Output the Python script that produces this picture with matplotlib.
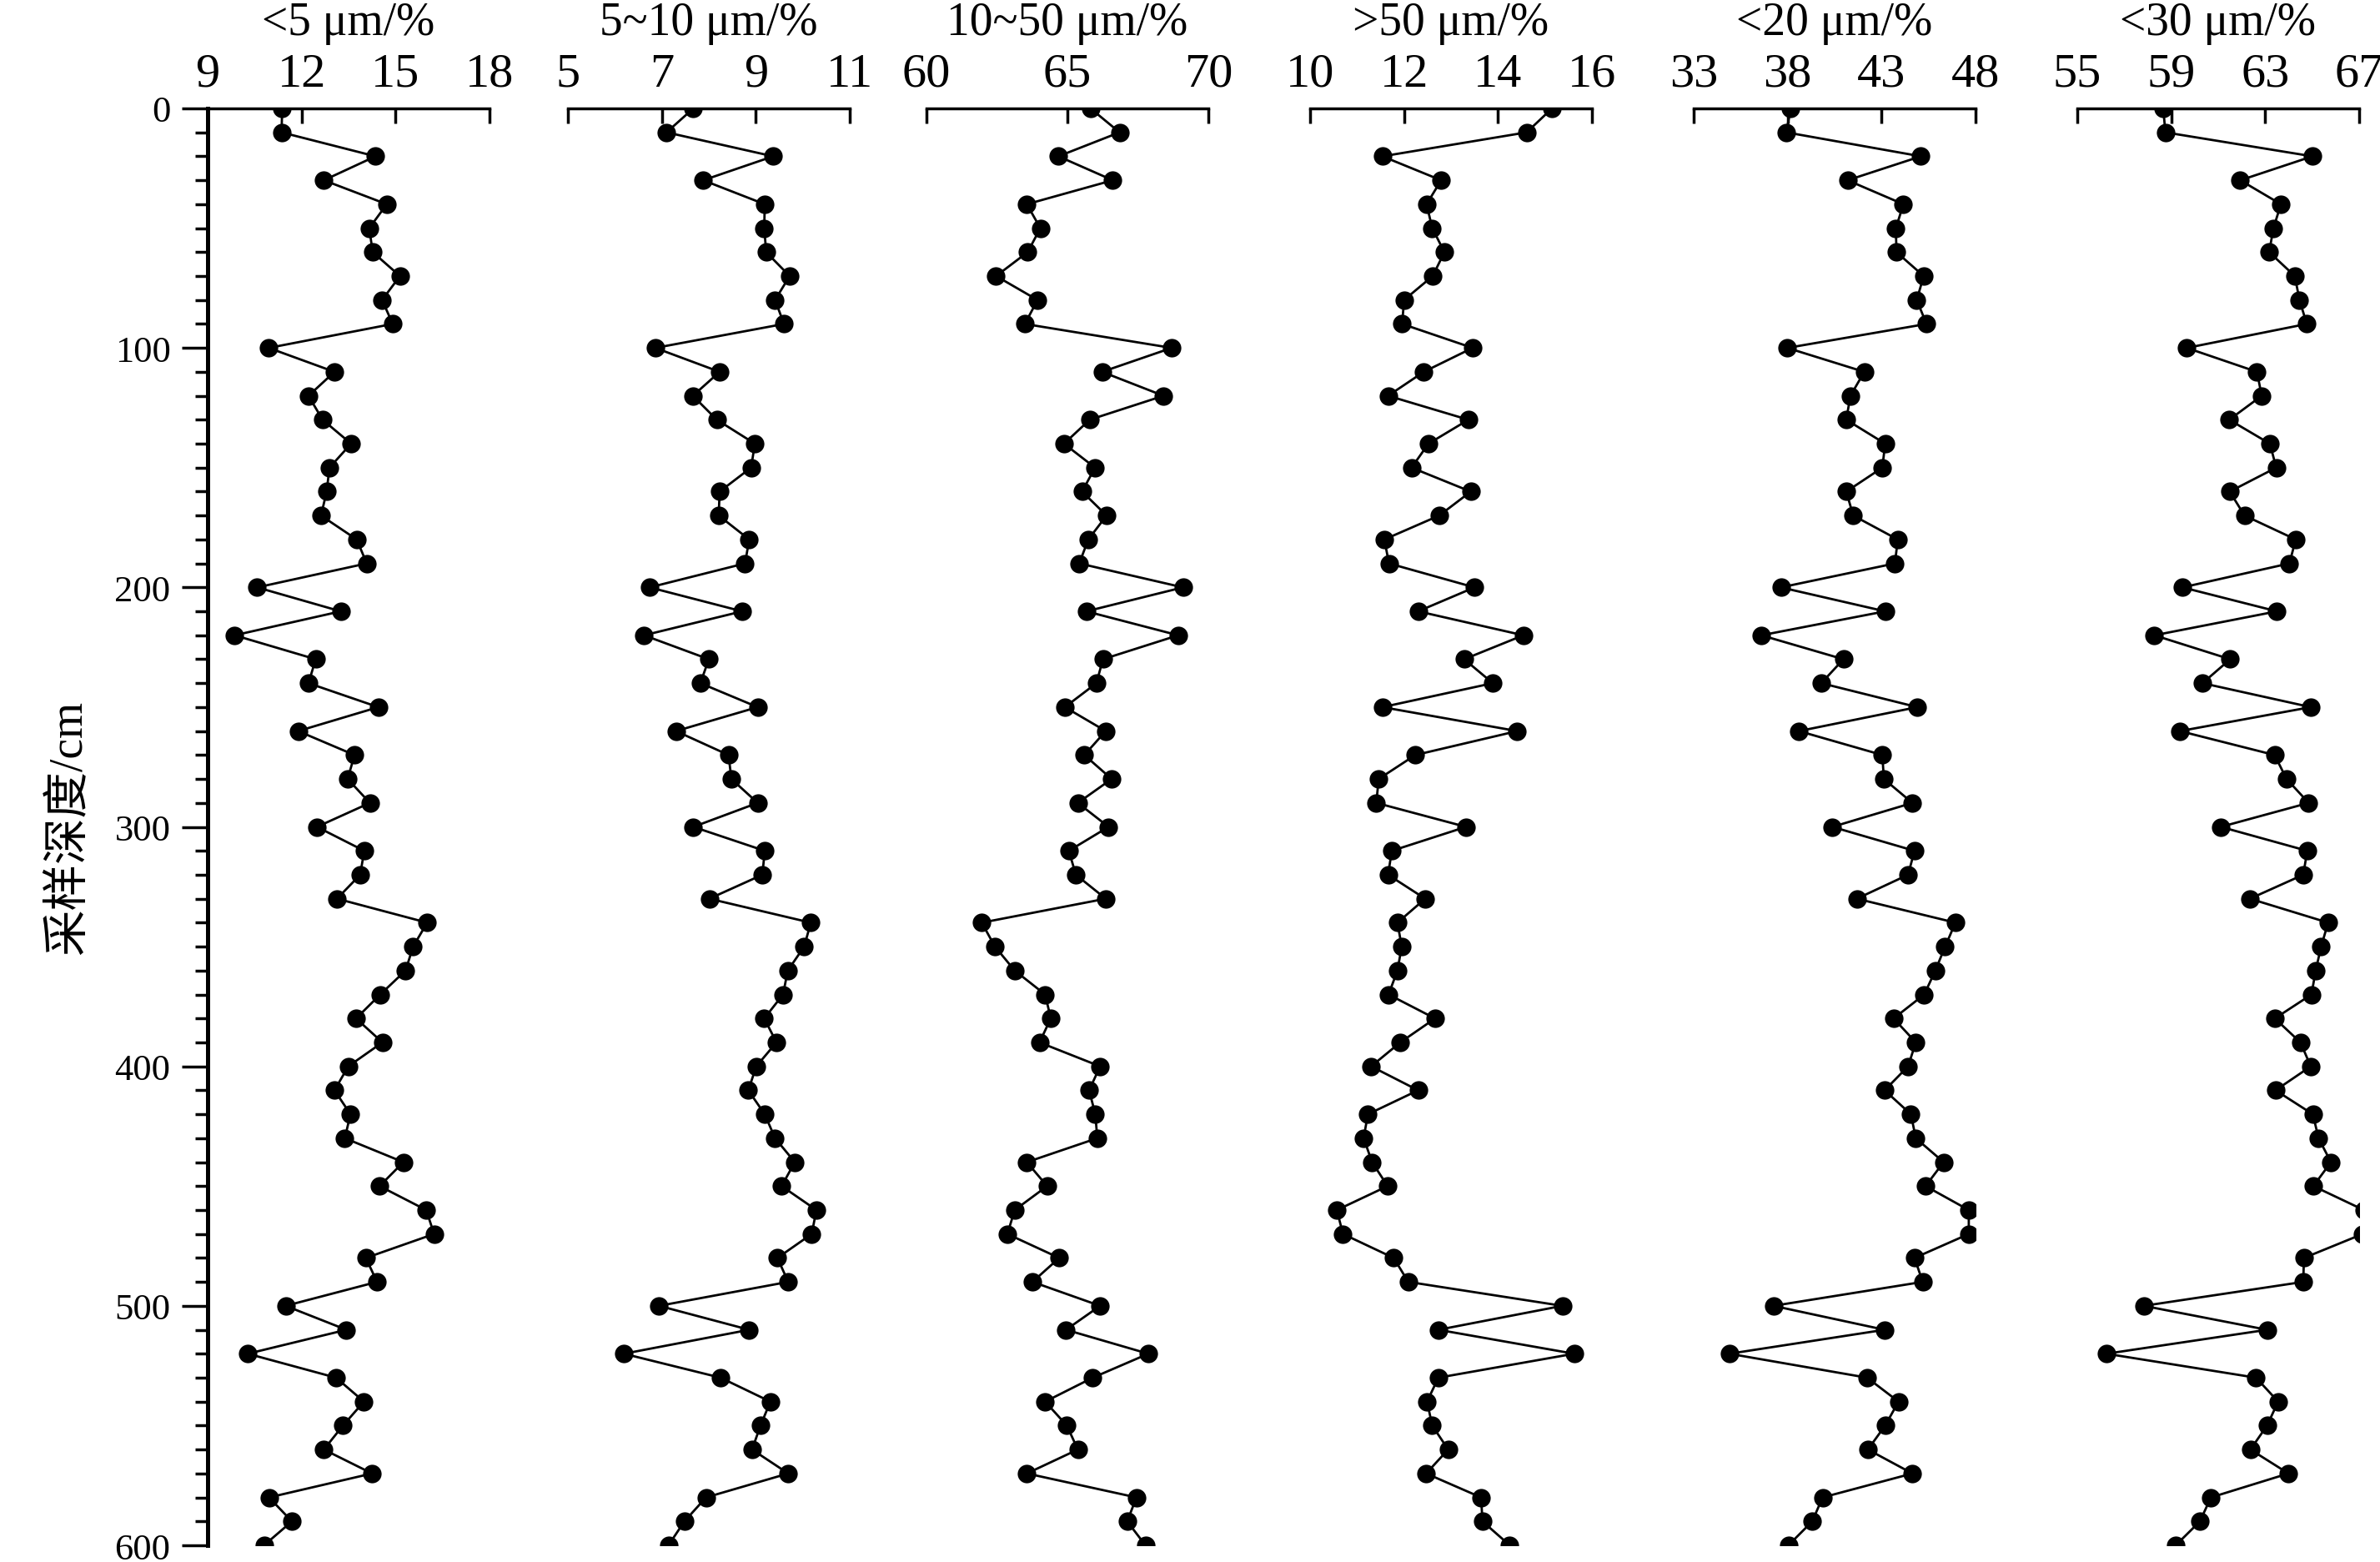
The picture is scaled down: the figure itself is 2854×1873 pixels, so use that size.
import matplotlib
matplotlib.use('Agg')
import matplotlib.pyplot as plt
from matplotlib.ticker import MultipleLocator

# шрифт: Times-подібний для цифр, CJK для підпису осі
plt.rcParams['font.family'] = ['Liberation Serif', 'Noto Sans CJK SC']

# глибина відбору зразків, см
depth = [0, 10, 20, 30, 40, 50, 60, 70, 80, 90,
         100, 110, 120, 130, 140, 150, 160, 170, 180, 190,
         200, 210, 220, 230, 240, 250, 260, 270, 280, 290,
         300, 310, 320, 330, 340, 350, 360, 370, 380, 390,
         400, 410, 420, 430, 440, 450, 460, 470, 480, 490,
         500, 510, 520, 530, 540, 550, 560, 570, 580, 590, 600]

lt5 = [11.38, 11.36, 14.36, 12.71, 14.72, 14.16, 14.27, 15.14, 14.57, 14.91,
       10.95, 13.05, 12.22, 12.67, 13.58, 12.89, 12.80, 12.62, 13.76, 14.08,
       10.58, 13.25, 9.86, 12.45, 12.22, 14.45, 11.89, 13.69, 13.47, 14.18,
       12.49, 14.00, 13.87, 13.13, 16.01, 15.56, 15.32, 14.51, 13.74, 14.58,
       13.49, 13.05, 13.56, 13.38, 15.25, 14.49, 15.98, 16.23, 14.05, 14.41,
       11.49, 13.43, 10.28, 13.10, 13.99, 13.32, 12.71, 14.25, 10.96, 11.69, 10.80]

r5_10 = [7.67, 7.10, 9.37, 7.88, 9.19, 9.18, 9.22, 9.72, 9.41, 9.60,
         6.86, 8.23, 7.66, 8.17, 8.98, 8.90, 8.23, 8.21, 8.86, 8.77,
         6.74, 8.71, 6.62, 8.00, 7.82, 9.04, 7.30, 8.42, 8.48, 9.04,
         7.67, 9.19, 9.14, 8.01, 10.17, 10.03, 9.68, 9.58, 9.18, 9.44,
         9.01, 8.84, 9.19, 9.41, 9.83, 9.55, 10.29, 10.19, 9.46, 9.69,
         6.94, 8.86, 6.19, 8.25, 9.31, 9.10, 8.92, 9.69, 7.94, 7.48, 7.14]

r10_50 = [65.82, 66.85, 64.68, 66.61, 63.56, 64.04, 63.59, 62.47, 63.94, 63.49,
          68.70, 66.23, 68.41, 65.79, 64.88, 65.98, 65.52, 66.39, 65.74, 65.42,
          69.10, 65.67, 68.93, 66.26, 66.03, 64.91, 66.36, 65.60, 66.57, 65.37,
          66.46, 65.05, 65.30, 66.36, 61.96, 62.43, 63.13, 64.21, 64.41, 64.01,
          66.16, 65.77, 65.99, 66.06, 63.56, 64.28, 63.13, 62.87, 64.71, 63.76,
          66.16, 64.95, 67.87, 65.90, 64.21, 64.98, 65.37, 63.56, 67.45, 67.12, 67.77]

gt50 = [15.15, 14.61, 11.54, 12.79, 12.48, 12.60, 12.86, 12.61, 12.00, 11.96,
        13.46, 12.42, 11.66, 13.37, 12.52, 12.16, 13.42, 12.75, 11.58, 11.68,
        13.50, 12.30, 14.54, 13.28, 13.89, 11.54, 14.41, 12.24, 11.46, 11.41,
        13.32, 11.74, 11.66, 12.45, 11.86, 11.95, 11.86, 11.67, 12.66, 11.92,
        11.30, 12.30, 11.23, 11.14, 11.32, 11.65, 10.57, 10.70, 11.78, 12.09,
        15.37, 12.73, 15.62, 12.73, 12.49, 12.60, 12.94, 12.47, 13.64, 13.67, 14.25]

lt20 = [38.16, 37.93, 45.09, 41.19, 44.16, 43.76, 43.79, 45.24, 44.87, 45.39,
        37.98, 42.08, 41.34, 41.12, 43.19, 43.04, 41.12, 41.49, 43.86, 43.71,
        37.64, 43.19, 36.60, 40.97, 39.79, 44.90, 38.60, 43.04, 43.12, 44.64,
        40.38, 44.75, 44.41, 41.68, 46.93, 46.38, 45.86, 45.27, 43.64, 44.82,
        44.41, 43.16, 44.56, 44.82, 46.30, 45.34, 47.64, 47.64, 44.75, 45.19,
        37.24, 43.16, 34.90, 42.23, 43.90, 43.19, 42.27, 44.64, 39.86, 39.31, 38.04]

lt30 = [58.66, 58.75, 65.01, 61.94, 63.67, 63.35, 63.17, 64.26, 64.46, 64.77,
        59.66, 62.65, 62.85, 61.47, 63.20, 63.47, 61.49, 62.12, 64.30, 64.03,
        59.48, 63.50, 58.28, 61.51, 60.33, 64.94, 59.37, 63.40, 63.91, 64.85,
        61.11, 64.79, 64.62, 62.35, 65.68, 65.38, 65.15, 64.97, 63.41, 64.50,
        64.94, 63.44, 65.03, 65.27, 65.80, 65.05, 67.20, 67.15, 64.65, 64.62,
        57.83, 63.08, 56.24, 62.61, 63.55, 63.08, 62.37, 63.99, 60.69, 60.22, 59.19]

series = [lt5, r5_10, r10_50, gt50, lt20, lt30]
titles = ['<5 μm/%', '5~10 μm/%', '10~50 μm/%', '>50 μm/%', '<20 μm/%', '<30 μm/%']
xlims = [(9, 18), (5, 11), (60, 70), (10, 16), (33, 48), (55, 67)]
xticks = [[9, 12, 15, 18], [5, 7, 9, 11], [60, 65, 70],
          [10, 12, 14, 16], [33, 38, 43, 48], [55, 59, 63, 67]]

# розміщення панелей у пікселях вихідного зображення
W, H = 2854, 1874
lefts = [249, 681, 1111, 1571, 2031, 2491]
panel_w = 338
top_px, bottom_px = 131, 1854

fig = plt.figure(figsize=(W / 100, H / 100), dpi=100)

for i, vals in enumerate(series):
    ax = fig.add_axes([lefts[i] / W, 1 - bottom_px / H, panel_w / W, (bottom_px - top_px) / H])
    ax.plot(vals, depth, '-o', color='black', lw=2, ms=16, mew=0)
    ax.set_xlim(*xlims[i])
    ax.set_ylim(600, 0)

    # вісь x зверху, риски всередину
    ax.xaxis.tick_top()
    ax.set_xticks(xticks[i])
    ax.tick_params(axis='x', which='both', direction='in', length=13, width=2.5,
                   pad=11, labelsize=42)
    for s in ['bottom', 'right', 'left']:
        ax.spines[s].set_visible(False)
    ax.spines['top'].set_linewidth(2.5)

    if i == 0:
        ax.spines['left'].set_visible(True)
        ax.spines['left'].set_linewidth(3.6)
        ax.yaxis.set_major_locator(MultipleLocator(100))
        ax.yaxis.set_minor_locator(MultipleLocator(10))
        ax.tick_params(axis='y', which='major', direction='out', length=22, width=2.5,
                       pad=10, labelsize=32)
        ax.tick_params(axis='y', which='minor', direction='out', length=11, width=2.5)
        plt.setp(ax.get_yticklabels(), va='center_baseline')
    else:
        ax.tick_params(axis='y', which='both', left=False, labelleft=False)

    ax.annotate(titles[i], xy=(0.5, 1), xycoords='axes fraction', xytext=(0, 64),
                textcoords='offset points', ha='center', va='baseline', fontsize=40)

fig.text(82 / W, 1 - (top_px + bottom_px) / 2 / H, '采样深度/cm', rotation=90,
         ha='center', va='center', fontsize=40)

fig.savefig('out.png', dpi=100)
